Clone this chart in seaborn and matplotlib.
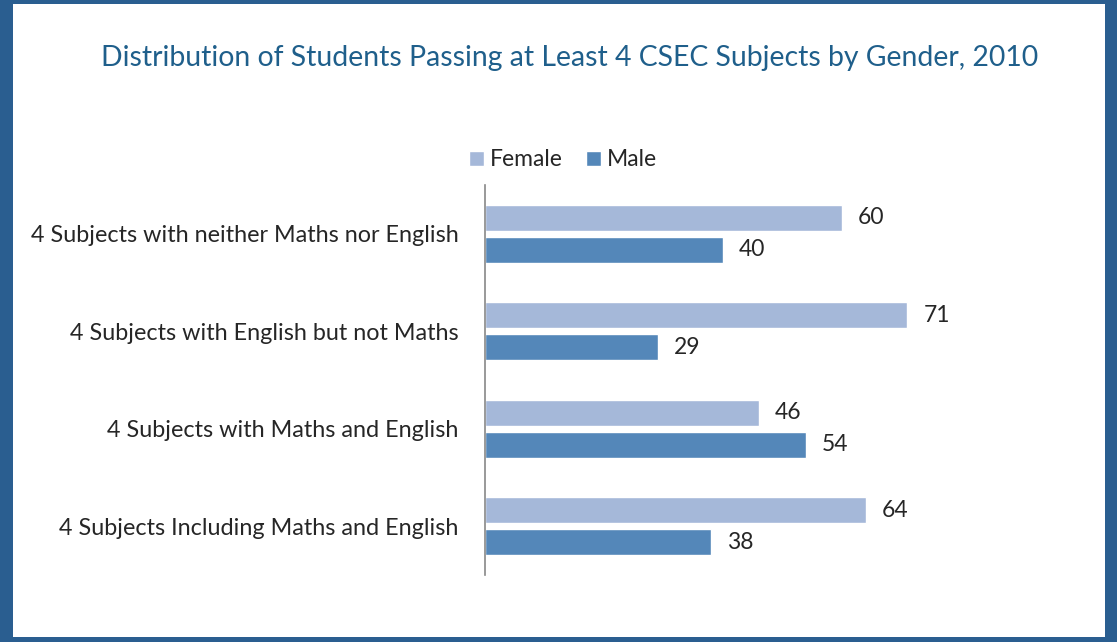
import matplotlib
matplotlib.use("Agg")
import matplotlib.pyplot as plt
import seaborn as sns
import pandas as pd
from matplotlib.patches import Rectangle

# data
categories = [
    "4 Subjects with neither Maths nor English",
    "4 Subjects with English but not Maths",
    "4 Subjects with Maths and English",
    "4 Subjects Including Maths and English",
]
female = [60, 71, 46, 64]
male = [40, 29, 54, 38]
genders = ["Female", "Male"]
title = "Distribution of Students Passing at Least 4 CSEC Subjects by Gender, 2010"

colors = {"Female": "#a5b8d9", "Male": "#5487b9"}
border = "#2a5e90"
text_col = "#262626"

df = pd.DataFrame({
    "category": categories * 2,
    "gender": ["Female"] * len(categories) + ["Male"] * len(categories),
    "value": female + male,
})

sns.set_style("white")
plt.rcParams["font.family"] = ["Lato", "DejaVu Sans"]

W, H = 1117, 642
fig = plt.figure(figsize=(W / 100, H / 100), dpi=100)

# frame around the picture
fig.patches.append(Rectangle((0, 0), 1, 1, transform=fig.transFigure,
                             facecolor=border, edgecolor="none", zorder=-2))
fig.patches.append(Rectangle((13 / W, 1 - 637 / H), (1105 - 13) / W, (637 - 4) / H,
                             transform=fig.transFigure, facecolor="white",
                             edgecolor="none", zorder=-1))

ax = fig.add_axes([485 / W, 1 - 575 / H, (961 - 485) / W, (575 - 185) / H])
ax.set_facecolor("none")

sns.barplot(data=df, y="category", x="value", hue="gender", hue_order=genders,
            order=categories, palette=colors, orient="h", width=0.66, gap=0.19,
            saturation=1, ax=ax, legend=False)

for cont in ax.containers:
    labels = ax.bar_label(cont, fmt="%g", padding=11.5, fontsize=16.5, color=text_col)
    for t in labels:
        t.set_y(t.get_position()[1])
        t.set_va("center")

ax.set_xlim(0, 80)
ax.set_xlabel("")
ax.set_ylabel("")
ax.set_xticks([])
for s in ["top", "right", "bottom"]:
    ax.spines[s].set_visible(False)
ax.spines["left"].set_color("#888888")
ax.spines["left"].set_linewidth(1.2)
ax.tick_params(axis="y", length=0, pad=19, labelsize=16.8, labelcolor=text_col)

handles = [Rectangle((0, 0), 1, 1, facecolor=colors[g]) for g in genders]
fig.legend(handles, genders, loc="center", bbox_to_anchor=(563 / W, 1 - 160 / H),
           ncol=2, frameon=False, fontsize=16.5, handlelength=0.65, handleheight=0.65,
           handletextpad=0.25, columnspacing=1.0, labelcolor=text_col)

fig.text(570 / W, 1 - 58 / H, title, ha="center", va="center", fontsize=20.4,
         color="#1f5f8b")

fig.savefig("out.png", dpi=100)
